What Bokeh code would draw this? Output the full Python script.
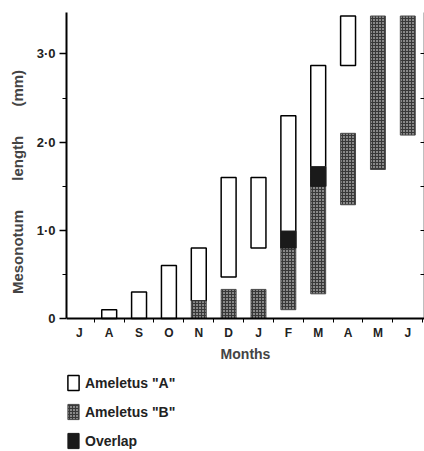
from bokeh.plotting import figure
from bokeh.models import Range1d, FixedTicker, LinearAxis, Legend, LegendItem
from bokeh.embed import file_html
from bokeh.resources import INLINE

# ---- data ----
months = ["J", "A", "S", "O", "N", "D", "J", "F", "M", "A", "M", "J"]
month_idx = list(range(len(months)))

a_idx = [1, 2, 3, 4, 5, 6, 7, 8, 9]
a_low = [0, 0, 0, 0.2, 0.47, 0.8, 0.8, 1.5, 2.87]
a_high = [0.1, 0.3, 0.6, 0.8, 1.6, 1.6, 2.3, 2.87, 3.43]

b_idx = [4, 5, 6, 7, 8, 9, 10, 11]
b_low = [0, 0, 0, 0.1, 0.28, 1.29, 1.69, 2.08]
b_high = [0.2, 0.33, 0.33, 0.99, 1.72, 2.1, 3.43, 3.43]

ov_idx = [7, 8]
ov_low = [0.8, 1.5]
ov_high = [0.99, 1.72]

y_ticks = [0, 1, 2, 3]
y_tick_labels = ["0", "1·0", "2·0", "3·0"]
y_minor = [0.5, 1.5, 2.5]
right_ticks = [0.5, 1, 1.5, 2, 2.5, 3]

Y_TOP = 3.47
FONT = "Liberation Sans"
NB = "\u00a0"

p = figure(width=424, height=451, output_backend="svg", toolbar_location=None,
           x_range=Range1d(-0.43, 11.56), y_range=Range1d(-1.508, Y_TOP),
           min_border_left=66, min_border_right=0, min_border_top=12,
           min_border_bottom=0)
p.xgrid.visible = False
p.ygrid.visible = False
p.outline_line_color = None

ra = p.vbar(x=a_idx, bottom=a_low, top=a_high, width=0.5,
            fill_color="white", line_color="black", line_width=1.5)
rb = p.vbar(x=b_idx, bottom=b_low, top=b_high, width=0.5,
            fill_color="#383838", line_color="#4a4a4a", line_width=1,
            hatch_pattern="dot", hatch_color="white", hatch_scale=3, hatch_weight=1.4)
ro = p.vbar(x=ov_idx, bottom=ov_low, top=ov_high, width=0.5,
            fill_color="#1a1a1a", line_color="#1a1a1a", line_width=1)

# x axis, drawn at y = 0
xa = p.xaxis[0]
xa.fixed_location = 0
xa.ticker = FixedTicker(ticks=month_idx, minor_ticks=[i + 0.5 for i in range(12)])
xa.major_label_overrides = {i: m for i, m in enumerate(months)}
xa.major_tick_out = 0
xa.major_tick_in = 0
xa.minor_tick_out = 4
xa.minor_tick_in = 0
xa.axis_line_width = 2
xa.major_label_standoff = 3
xa.major_label_text_font = FONT
xa.major_label_text_font_style = "bold"
xa.major_label_text_font_size = "12px"
xa.major_label_text_color = "#222222"
xa.axis_label = "Months"
xa.axis_label_text_font = FONT
xa.axis_label_text_font_style = "bold"
xa.axis_label_text_font_size = "14px"
xa.axis_label_standoff = 3

# y axis
ya = p.yaxis[0]
ya.bounds = (0, Y_TOP)
ya.ticker = FixedTicker(ticks=y_ticks, minor_ticks=y_minor)
ya.major_label_overrides = {t: l for t, l in zip(y_ticks, y_tick_labels)}
ya.major_tick_out = 7
ya.major_tick_in = 0
ya.minor_tick_out = 4
ya.minor_tick_in = 0
ya.axis_line_width = 2
ya.major_tick_line_width = 1.5
ya.major_label_standoff = 4
ya.major_label_text_font = FONT
ya.major_label_text_font_style = "bold"
ya.major_label_text_font_size = "13px"
ya.major_label_text_color = "#222222"
ya.axis_label = NB * 24 + "Mesonotum" + NB * 7 + "length" + NB * 7 + "(mm)"
ya.axis_label_text_font = FONT
ya.axis_label_text_font_style = "bold"
ya.axis_label_text_font_size = "15px"
ya.axis_label_standoff = 8

# right frame line
right = LinearAxis(ticker=FixedTicker(ticks=right_ticks), bounds=(0, Y_TOP),
                   major_label_overrides={t: "" for t in right_ticks},
                   major_tick_in=4, major_tick_out=0, minor_tick_in=0, minor_tick_out=0,
                   major_label_standoff=0, axis_line_width=1.5)
p.add_layout(right, "right")

legend = Legend(items=[
    LegendItem(label='Ameletus "A"', renderers=[ra]),
    LegendItem(label='Ameletus "B"', renderers=[rb]),
    LegendItem(label="Overlap", renderers=[ro]),
], location=(0, 1))
legend.background_fill_alpha = 0
legend.border_line_color = None
legend.margin = 0
legend.padding = 0
legend.spacing = 10
legend.glyph_width = 14
legend.glyph_height = 19
legend.label_height = 19
legend.label_standoff = 5
legend.label_text_font = FONT
legend.label_text_font_style = "bold"
legend.label_text_font_size = "14px"
legend.label_text_color = "#222222"
p.add_layout(legend)

open("out.html", "w").write(file_html(p, INLINE))
